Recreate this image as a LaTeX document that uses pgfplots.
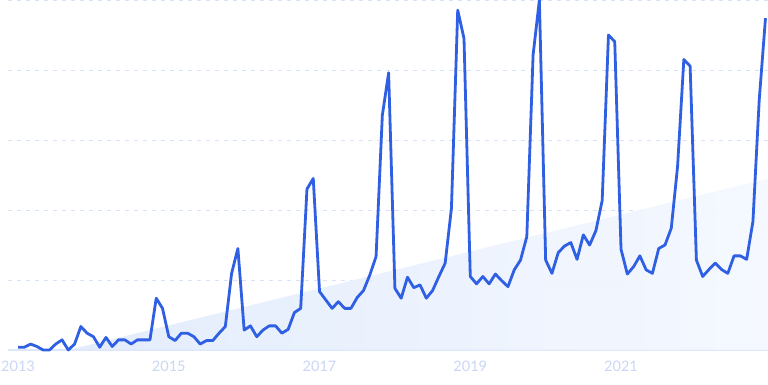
\documentclass[border=0pt]{standalone}
\usepackage{fontspec}
\setmainfont{Lato}
\usepackage{pgfplots}
\pgfplotsset{compat=1.18}
\usepackage{pgfplotstable}
\definecolor{lineblue}{HTML}{2F5FE3}
\definecolor{gridblue}{HTML}{D6E2FB}
\definecolor{baseblue}{HTML}{DCE7FB}
\definecolor{labelblue}{HTML}{C9D6F4}
\definecolor{fillL}{HTML}{E0EAFC}
\definecolor{fillR}{HTML}{F4F8FF}
\pgfplotstableread{
k v
0 0.8
1 0.8
2 1.7
3 1.0
4 0
5 0
6 1.7
7 2.9
8 0
9 1.7
10 6.7
11 4.8
12 3.8
13 0.8
14 3.6
15 1.0
16 2.9
17 2.9
18 1.7
19 2.9
20 2.9
21 2.9
22 14.8
23 11.9
24 3.8
25 2.7
26 4.8
27 4.8
28 3.8
29 1.7
30 2.7
31 2.7
32 4.8
33 6.7
34 21.9
35 29
36 5.7
37 6.9
38 3.8
39 5.7
40 6.9
41 6.9
42 4.8
43 5.9
44 10.7
45 11.9
46 46
47 49
48 16.7
49 14.3
50 11.9
51 13.8
52 11.9
53 11.9
54 15
55 17
56 21.4
57 26.7
58 67.1
59 79.2
60 17.6
61 14.8
62 20.8
63 17.8
64 18.6
65 14.8
66 17
67 21
68 24.8
69 40.5
70 97.1
71 89
72 21
73 18.9
74 21
75 18.9
76 21.7
77 19.8
78 18.1
79 22.9
80 25.7
81 32.4
82 84.3
83 100
84 25.7
85 21.9
86 27.8
87 29.7
88 30.7
89 25.9
90 32.9
91 30
92 34.1
93 42.7
94 90
95 88.1
96 28.8
97 21.7
98 23.8
99 26.9
100 22.9
101 21.9
102 29
103 30
104 34.8
105 52.4
106 83
107 81.1
108 25.7
109 21
110 23
111 24.8
112 23
113 21.9
114 26.9
115 26.9
116 25.9
117 36.7
118 71.4
119 94.8
}\trend
\pgfplotstableread{
k v
8 0
119.4 49
119.4 0
}\trendarea
\begin{document}
\begin{tikzpicture}
\begin{axis}[
  at={(0,0)}, anchor=south west,
  scale only axis, width=760pt, height=350pt,
  xmin=-1.6, xmax=119.4, ymin=0, ymax=100,
  axis line style={draw=none},
  major tick length=0pt,
  xtick={0,24,48,72,96},
  xticklabels={2013,2015,2017,2019,2021},
  xticklabel style={anchor=north, yshift=-7pt, font=\fontsize{14.5}{16}\selectfont, text=labelblue},
  ytick={20,40,60,80,100},
  yticklabels={},
  ymajorgrids,
  grid style={dash pattern=on 4pt off 5pt, color=gridblue, line width=1pt},
  extra y ticks={0},
  extra y tick labels={},
  extra y tick style={grid style={solid, color=baseblue, line width=1.4pt}},
  clip=false,
]
\addplot[draw=none, left color=fillL, right color=fillR, fill opacity=0.9] table[x=k, y=v] {\trendarea} -- cycle;
\addplot[lineblue, line width=2.8pt, line join=round, no markers] table[x=k, y=v] {\trend};
\end{axis}
\pgfresetboundingbox
\useasboundingbox (-8pt,-34pt) rectangle (760pt,350pt);
\end{tikzpicture}
\end{document}
